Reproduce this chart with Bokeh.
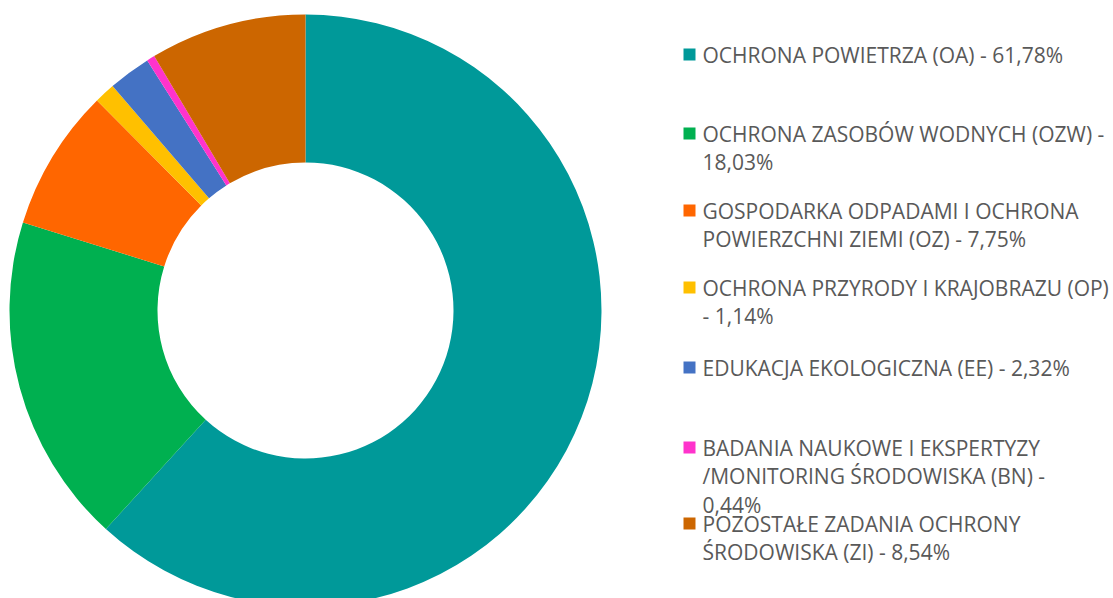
import math
from bokeh.plotting import figure
from bokeh.models import ColumnDataSource, Range1d
from bokeh.core.properties import value
from bokeh.embed import file_html
from bokeh.resources import INLINE

categories = [
    "OCHRONA POWIETRZA (OA) - 61,78%",
    "OCHRONA ZASOBÓW WODNYCH (OZW) -\n18,03%",
    "GOSPODARKA ODPADAMI I OCHRONA\nPOWIERZCHNI ZIEMI (OZ) - 7,75%",
    "OCHRONA PRZYRODY I KRAJOBRAZU (OP)\n- 1,14%",
    "EDUKACJA EKOLOGICZNA (EE) - 2,32%",
    "BADANIA NAUKOWE I EKSPERTYZY\n/MONITORING ŚRODOWISKA (BN) -\n0,44%",
    "POZOSTAŁE ZADANIA OCHRONY\nŚRODOWISKA (ZI) - 8,54%",
]
shares = [61.78, 18.03, 7.75, 1.14, 2.32, 0.44, 8.54]
colors = ["#009999", "#00B050", "#FF6600", "#FFC000", "#4472C4", "#FF33CC", "#CC6600"]

W, H = 1113, 598
p = figure(width=W, height=H, output_backend="svg", toolbar_location=None,
           x_range=Range1d(0, W), y_range=Range1d(0, H), min_border=0,
           match_aspect=False)
p.axis.visible = False
p.grid.visible = False
p.outline_line_color = None
p.background_fill_color = "white"
p.border_fill_color = "white"

# donut
total = sum(shares)
starts, ends = [], []
cum = 0.0
for s in shares:
    starts.append(math.pi / 2 - 2 * math.pi * cum / total)
    cum += s
    ends.append(math.pi / 2 - 2 * math.pi * cum / total)
src = ColumnDataSource(dict(start=starts, end=ends, color=colors))
cx, cy = 305, H - 310
p.annular_wedge(x=cx, y=cy, inner_radius=148, outer_radius=296,
                start_angle="start", end_angle="end", direction="clock",
                fill_color="color", line_color=None, source=src)

# legend
entry_top = [54, 133, 210, 287, 367, 447, 523]  # screen y of first line centre
line_step = 28.5
sq_x, sq_y, sq_c = [], [], []
tx, ty, tt = [], [], []
for i, lab in enumerate(categories):
    y0 = H - entry_top[i]
    sq_x.append(689)
    sq_y.append(y0)
    sq_c.append(colors[i])
    for j, line in enumerate(lab.split("\n")):
        tx.append(702)
        ty.append(y0 - j * line_step)
        tt.append(line)
p.rect(x=sq_x, y=sq_y, width=12, height=12, fill_color=sq_c, line_color=None)
p.text(x=tx, y=ty, text=tt, text_font=value("Open Sans"), text_font_size="21px",
       text_color="#595959", text_baseline="middle", text_align="left")

open("out.html", "w").write(file_html(p, INLINE))
